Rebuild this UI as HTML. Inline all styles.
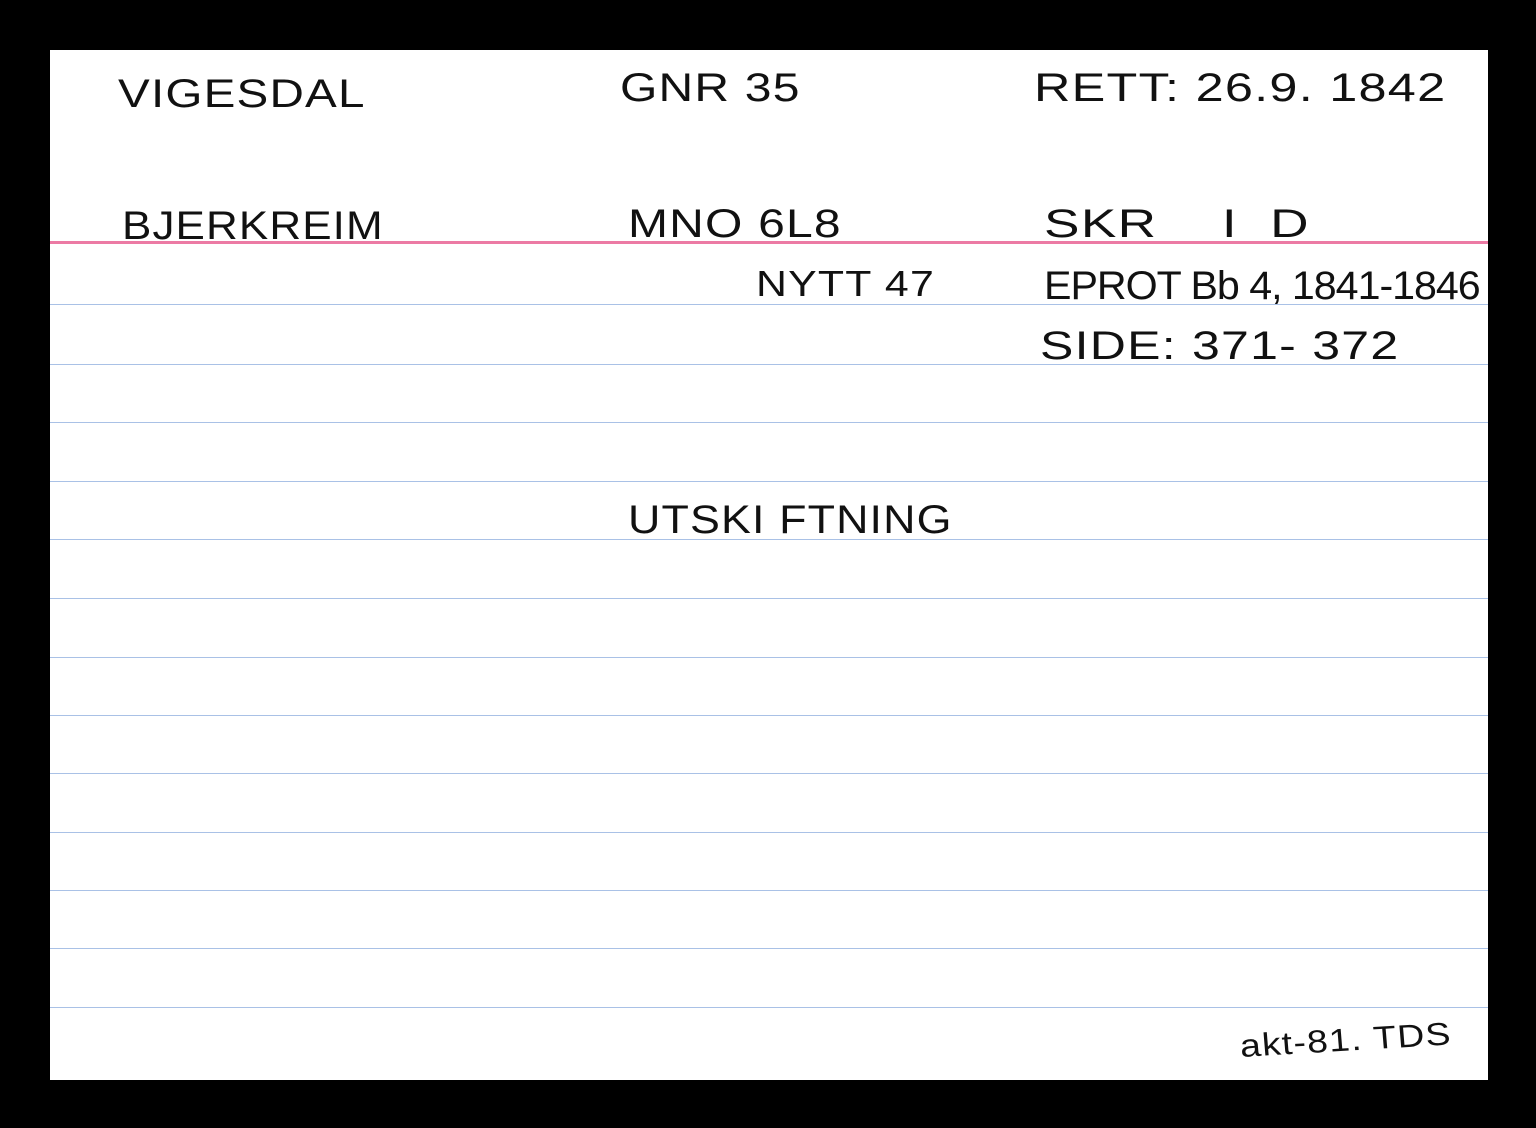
<!DOCTYPE html>
<html><head><meta charset="utf-8"><style>
body{margin:0;width:1536px;height:1128px;background:#000;position:relative;overflow:hidden;font-family:"Liberation Sans",sans-serif;}
#card{position:absolute;left:50px;top:50px;width:1438px;height:1030px;background:#fff;}
.l{position:absolute;left:0;width:1438px;height:1px;background:#a9c1e6;}
.r{position:absolute;left:0;width:1438px;height:3px;background:#ec7aa4;}
.t{position:absolute;color:#111;font-size:40px;letter-spacing:1px;white-space:nowrap;line-height:1;transform-origin:0 50%;}
</style></head><body>
<div id="card">
<div class="r" style="top:191px"></div>
<div class="l" style="top:254px"></div>
<div class="l" style="top:314px"></div>
<div class="l" style="top:372px"></div>
<div class="l" style="top:431px"></div>
<div class="l" style="top:489px"></div>
<div class="l" style="top:548px"></div>
<div class="l" style="top:607px"></div>
<div class="l" style="top:665px"></div>
<div class="l" style="top:723px"></div>
<div class="l" style="top:782px"></div>
<div class="l" style="top:840px"></div>
<div class="l" style="top:898px"></div>
<div class="l" style="top:957px"></div>
</div>
<div class="t" style="left:118px;top:74px;transform:scaleX(1.19)">VIGESDAL</div>
<div class="t" style="left:620px;top:68px;transform:scaleX(1.2)">GNR 35</div>
<div class="t" style="left:1034px;top:68px;transform:scaleX(1.26)">RETT: 26.9. 1842</div>
<div class="t" style="left:122px;top:206px;transform:scaleX(1.1)">BJERKREIM</div>
<div class="t" style="left:628px;top:204px;transform:scaleX(1.2)">MNO 6L8</div>
<div class="t" style="left:1044px;top:204px;transform:scaleX(1.33)">SKR &nbsp;&nbsp;&nbsp;I&nbsp; D</div>
<div class="t" style="left:756px;top:266px;font-size:36px;transform:scaleX(1.19)">NYTT 47</div>
<div class="t" style="left:1044px;top:266px;letter-spacing:-1px;transform:scaleX(1.03)">EPROT Bb 4, 1841-1846</div>
<div class="t" style="left:1040px;top:326px;transform:scaleX(1.25)">SIDE: 371- 372</div>
<div class="t" style="left:628px;top:500px;transform:scaleX(1.12)">UTSKI FTNING</div>
<div class="t" style="left:1240px;top:1030px;font-size:32px;transform:scaleX(1.17) rotate(-4deg)">akt-81. TDS</div>
</body></html>
